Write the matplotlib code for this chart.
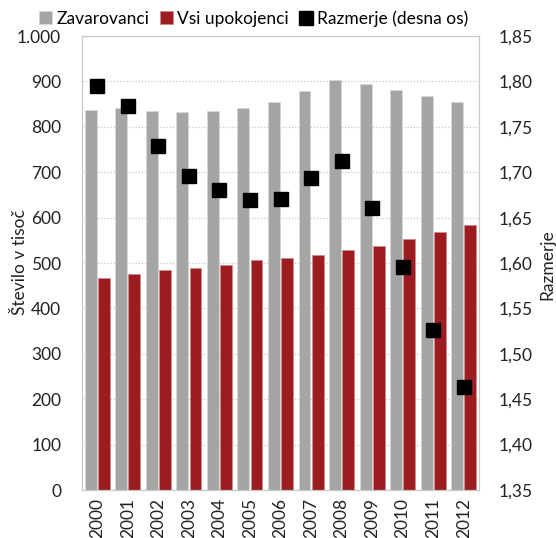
import matplotlib.pyplot as plt
import numpy as np
from matplotlib.ticker import FuncFormatter

plt.rcParams['font.family'] = ['Lato', 'DejaVu Sans']

years = ['2000', '2001', '2002', '2003', '2004', '2005', '2006',
         '2007', '2008', '2009', '2010', '2011', '2012']
zavarovanci = [837, 841, 835, 832, 835, 841, 854, 878, 903, 894, 881, 869, 854]
upokojenci = [468, 475, 484, 490, 496, 506, 512, 518, 528, 537, 552, 568, 584]
razmerje = [1.795, 1.773, 1.729, 1.696, 1.680, 1.669, 1.671, 1.694, 1.712,
            1.661, 1.596, 1.526, 1.464]

grey = '#A5A5A5'
red = '#9C1C21'

fig = plt.figure(figsize=(5.56, 5.38), dpi=100)
ax = fig.add_axes([0.1475, 0.0892, 0.714, 0.8438])
ax2 = ax.twinx()

x = np.arange(len(years))
w = 0.39
ax.bar(x - 0.215, zavarovanci, width=w, color=grey, edgecolor='#d8d8d8',
       linewidth=0.6, label='Zavarovanci', zorder=2)
ax.bar(x + 0.215, upokojenci, width=w, color=red, edgecolor='#d08a8c',
       linewidth=0.6, label='Vsi upokojenci', zorder=2)
ax2.plot(x, razmerje, linestyle='none', marker='s', markersize=9.5,
         color='black', label='Razmerje (desna os)')

ax.set_xlim(-0.5, len(years) - 0.5)
ax.set_ylim(0, 1000)
ax.set_yticks(np.arange(0, 1001, 100))
ax.yaxis.set_major_formatter(FuncFormatter(lambda v, p: f'{int(v):,}'.replace(',', '.')))
ax.set_xticks(x)
ax.set_xticklabels(years, rotation=90)
ax.grid(axis='y', color='#c8c8c8', linestyle=(0, (1, 1.5)), linewidth=0.9, zorder=0)
ax.set_axisbelow(True)

ax2.set_ylim(1.35, 1.85)
ax2.set_yticks(np.arange(1.35, 1.851, 0.05))
ax2.yaxis.set_major_formatter(FuncFormatter(lambda v, p: f'{v:.2f}'.replace('.', ',')))

for a in (ax, ax2):
    for s in a.spines.values():
        s.set_color('#c8c8c8')
    a.tick_params(length=0, labelsize=12.5, colors='#222222')
ax.tick_params(axis='y', pad=15)
ax2.tick_params(axis='y', pad=14)
ax.tick_params(axis='x', pad=6)

fig.text(20 / 556, 1 - 262 / 538, 'Število v tisoč', rotation=90, fontsize=12.5,
         ha='center', va='center', color='#222222')
fig.text(547 / 556, 1 - 265 / 538, 'Razmerje', rotation=90, fontsize=12.5,
         ha='center', va='center', color='#222222')

h1, l1 = ax.get_legend_handles_labels()
h2, l2 = ax2.get_legend_handles_labels()
fig.legend(h1 + h2, l1 + l2, loc='upper center', bbox_to_anchor=(0.456, 1.01),
           ncol=3, frameon=False, fontsize=12.5, handlelength=0.75, handleheight=0.75,
           handletextpad=0.25, columnspacing=0.6)

plt.savefig('out.png', dpi=100)
